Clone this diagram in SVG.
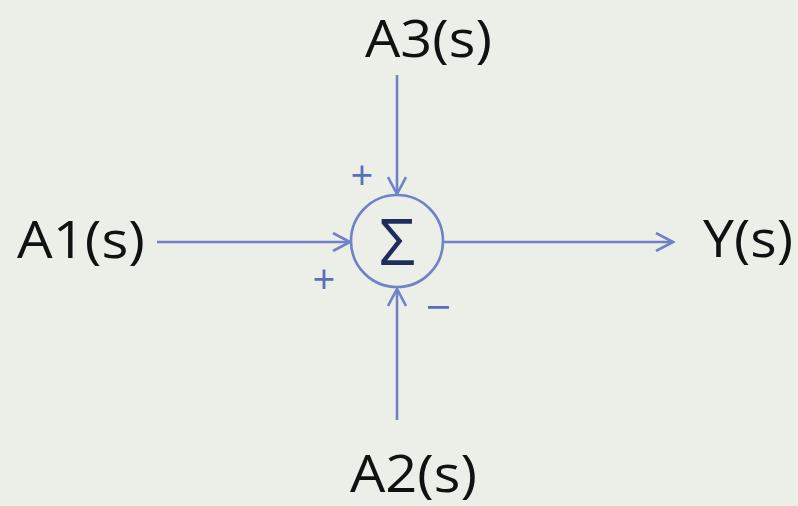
<svg xmlns="http://www.w3.org/2000/svg" width="798" height="506" viewBox="0 0 798 506">
<style>
.ln{stroke:#6F82C8;stroke-width:2.6;fill:none}
.lbl{font-family:"Open Sans","Liberation Sans",sans-serif;font-size:52px;fill:#111}
.sg{font-family:"Open Sans","Liberation Sans",sans-serif;fill:#5A6EBE}
</style>
<defs>
<marker id="ch" viewBox="0 0 20 20" refX="18" refY="10" markerWidth="20" markerHeight="20" markerUnits="userSpaceOnUse" orient="auto">
<path d="M1,1 L18,10 L1,19" fill="none" stroke="#6F82C8" stroke-width="2.6"/>
</marker>
</defs>
<rect width="798" height="506" fill="#ECEEE8"/>
<g id="connectors">
<line class="ln" x1="157" y1="242" x2="350" y2="242" marker-end="url(#ch)"/>
<line class="ln" x1="397" y1="75" x2="397" y2="194" marker-end="url(#ch)"/>
<line class="ln" x1="397" y1="420" x2="397" y2="289" marker-end="url(#ch)"/>
<line class="ln" x1="443" y1="242" x2="673" y2="242" marker-end="url(#ch)"/>
</g>
<g id="sum">
<circle cx="397" cy="241" r="46" class="ln"/>
<text x="397" y="265" text-anchor="middle" font-family="'Open Sans','Liberation Sans',sans-serif" font-size="64" fill="#1F2D5C">Σ</text>
</g>
<g id="A1"><text class="lbl" x="17" y="258" textLength="128" lengthAdjust="spacingAndGlyphs">A1(s)</text></g>
<g id="A3"><text class="lbl" x="365" y="57" font-size="50" textLength="127" lengthAdjust="spacingAndGlyphs">A3(s)</text></g>
<g id="A2"><text class="lbl" x="350" y="492" textLength="127" lengthAdjust="spacingAndGlyphs">A2(s)</text></g>
<g id="Y"><text class="lbl" x="703" y="257" textLength="90" lengthAdjust="spacingAndGlyphs">Y(s)</text></g>
<g id="signs">
<text class="sg" x="362" y="190" font-size="40" text-anchor="middle">+</text>
<text class="sg" x="324" y="294" font-size="40" text-anchor="middle">+</text>
<rect x="428" y="306" width="21" height="2.8" fill="#5A6EBE"/>
</g>
</svg>
